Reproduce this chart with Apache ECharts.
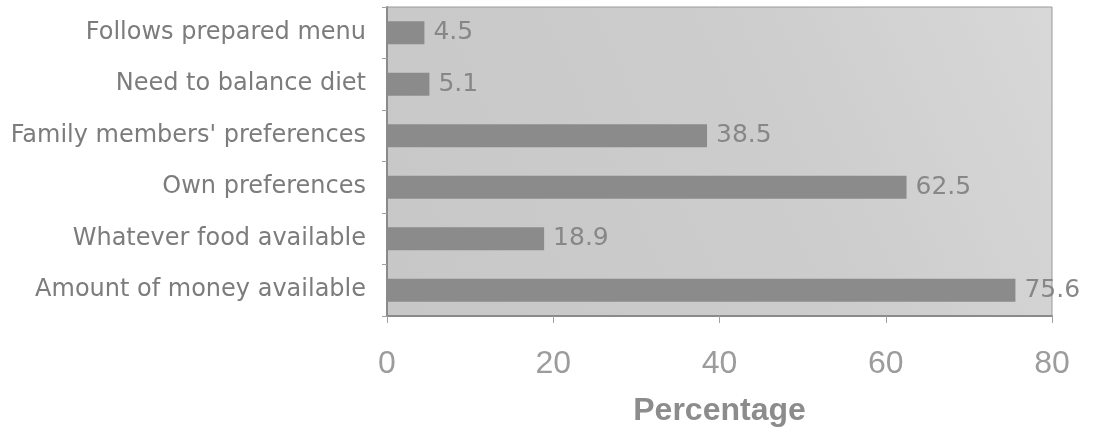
<!DOCTYPE html>
<html>
<head>
<meta charset="utf-8">
<script src="https://cdn.jsdelivr.net/npm/echarts@6/dist/echarts.min.js"></script>
<style>
html,body{margin:0;padding:0;background:#fff;}
#chart{width:1100px;height:436px;}
</style>
</head>
<body>
<div id="chart"></div>
<script>
const categories = [
  "Follows prepared menu",
  "Need to balance diet",
  "Family members' preferences",
  "Own preferences",
  "Whatever food available",
  "Amount of money available"
];
const values = [4.5, 5.1, 38.5, 62.5, 18.9, 75.6];
const xTicks = { min: 0, max: 80, interval: 20 };
const axisName = "Percentage";

const chart = echarts.init(document.getElementById('chart'), null, { renderer: 'canvas' });
chart.setOption({
  animation: false,
  backgroundColor: '#ffffff',
  grid: {
    left: 387, right: 48, top: 7, bottom: 120,
    containLabel: false,
    show: true,
    borderColor: '#9a9a9a',
    borderWidth: 1,
    backgroundColor: new echarts.graphic.LinearGradient(0, 1, 1, 0, [
      { offset: 0, color: '#c7c7c7' },
      { offset: 0.6, color: '#cdcdcd' },
      { offset: 1, color: '#d8d8d8' }
    ])
  },
  xAxis: {
    type: 'value',
    min: xTicks.min, max: xTicks.max, interval: xTicks.interval,
    name: axisName,
    nameLocation: 'middle',
    nameGap: 79,
    nameTextStyle: { fontFamily: 'Liberation Sans', fontWeight: 'bold', fontSize: 32, color: '#8c8c8c' },
    axisLine: { show: true, lineStyle: { color: '#8a8a8a', width: 2 } },
    axisTick: { show: true, inside: false, length: 7, lineStyle: { color: '#a0a0a0', width: 1 } },
    axisLabel: { margin: 32, fontFamily: 'Liberation Sans', fontSize: 32, color: '#9c9c9c' },
    splitLine: { show: false }
  },
  yAxis: {
    type: 'category',
    data: categories,
    inverse: true,
    axisLine: { show: true, lineStyle: { color: '#8a8a8a', width: 2 } },
    axisTick: { show: true, inside: false, length: 5, alignWithLabel: false, lineStyle: { color: '#a0a0a0', width: 1 } },
    axisLabel: { margin: 21, fontFamily: 'DejaVu Sans', fontSize: 24, color: '#7c7c7c' },
    splitLine: { show: false }
  },
  series: [{
    type: 'bar',
    data: values,
    barWidth: 23,
    itemStyle: { color: '#8b8b8b' },
    label: {
      show: true,
      position: 'right',
      distance: 9,
      fontFamily: 'DejaVu Sans',
      fontSize: 25,
      color: '#878787'
    }
  }]
});
</script>
</body>
</html>
